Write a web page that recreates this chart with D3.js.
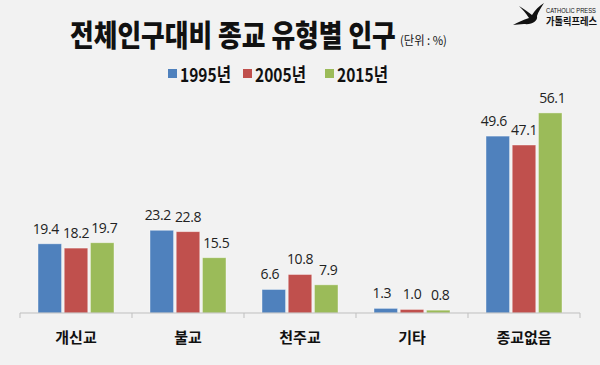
<!DOCTYPE html>
<html>
<head>
<meta charset="utf-8">
<script src="https://cdn.jsdelivr.net/npm/d3@7"></script>
<style>
  body { margin: 0; background: #f2f2f2; }
  svg { display: block; }
</style>
</head>
<body>
<svg id="chart" width="600" height="365"></svg>
<script>
// data
var categories = ["개신교", "불교", "천주교", "기타", "종교없음"];
var years = ["1995년", "2005년", "2015년"];
var v1995 = [19.4, 23.2, 6.6, 1.3, 49.6];
var v2005 = [18.2, 22.8, 10.8, 1.0, 47.1];
var v2015 = [19.7, 15.5, 7.9, 0.8, 56.1];
var colors = ["#4f81bd", "#c0504d", "#9bbb59"];

var series = [v1995, v2005, v2015];
var font = "'Noto Sans CJK KR', 'Noto Sans', sans-serif";
var labelShift = [-4, 0, 2];   // labels spread a little wider than the bars

var svg = d3.select("#chart");
svg.append("rect").attr("width", 600).attr("height", 365).attr("fill", "#f2f2f2");

// squeeze a text horizontally so it spans `w` px from x0 (the glyphs of the
// original are narrower than anything installed here)
function fitText(t, x0, y0, w) {
    var len = t.node().getComputedTextLength();
    var k = Math.min(1, w / len);
    t.attr("x", 0).attr("y", 0)
        .attr("transform", "translate(" + x0 + "," + y0 + ") scale(" + k + ",1)");
}

var x = d3.scaleBand().domain(categories).range([20, 580]);
var xs = d3.scaleBand().domain(d3.range(3)).range([18, 94]).paddingInner(0.1);
var y = d3.scaleLinear().domain([0, 60]).range([313, 99]);

// bars
var groups = svg.selectAll(".grp")
    .data(categories)
    .enter().append("g")
    .attr("class", "grp")
    .attr("transform", function (d) { return "translate(" + x(d) + ",0)"; });

groups.each(function (cat, ci) {
    var g = d3.select(this);
    series.forEach(function (s, si) {
        g.append("rect")
            .attr("x", xs(si))
            .attr("y", y(s[ci]))
            .attr("width", xs.bandwidth())
            .attr("height", y(0) - y(s[ci]))
            .attr("fill", colors[si])
            .attr("stroke", "#ffffff")
            .attr("stroke-opacity", 0.5)
            .attr("stroke-width", 0.8);
        g.append("text")
            .attr("x", xs(si) + xs.bandwidth() / 2 + labelShift[si])
            .attr("y", y(s[ci]) - 10)
            .attr("text-anchor", "middle")
            .attr("font-family", "'Open Sans', sans-serif")
            .attr("font-size", 14)
            .attr("letter-spacing", -0.4)
            .attr("fill", "#222")
            .text(s[ci].toFixed(1));
    });
});

// axis
var axis = svg.append("g")
    .attr("transform", "translate(0," + y(0) + ")");
axis.append("line")
    .attr("x1", 20).attr("x2", 580)
    .attr("stroke", "#bfbfbf").attr("stroke-width", 1);
axis.selectAll(".tk")
    .data(d3.range(categories.length + 1))
    .enter().append("line")
    .attr("x1", function (i) { return 20 + i * x.bandwidth(); })
    .attr("x2", function (i) { return 20 + i * x.bandwidth(); })
    .attr("y1", 0).attr("y2", 5)
    .attr("stroke", "#bfbfbf");
axis.selectAll(".cl")
    .data(categories)
    .enter().append("text")
    .attr("x", function (d) { return x(d) + x.bandwidth() / 2; })
    .attr("y", 30)
    .attr("text-anchor", "middle")
    .attr("font-family", font)
    .attr("font-weight", 700)
    .attr("font-size", 15)
    .attr("fill", "#111")
    .text(function (d) { return d; });

// title
var title = svg.append("text")
    .attr("font-family", font)
    .attr("font-weight", 900)
    .attr("font-size", 30)
    .attr("fill", "#111")
    .text("전체인구대비 종교 유형별 인구");
fitText(title, 70, 46, 326);
var unit = svg.append("text")
    .attr("font-family", font)
    .attr("font-size", 12)
    .attr("fill", "#111")
    .text("(단위 : %)");
fitText(unit, 400, 45, 47);

// legend
var legX = [168, 243, 325];
years.forEach(function (yr, i) {
    svg.append("rect")
        .attr("x", legX[i]).attr("y", 69).attr("width", 9).attr("height", 9)
        .attr("fill", colors[i]);
    var t = svg.append("text")
        .attr("font-family", font)
        .attr("font-weight", 700)
        .attr("font-size", 19)
        .attr("fill", "#111")
        .text(yr);
    fitText(t, legX[i] + 12, 82, 51);
});

// logo
svg.append("path")
    .attr("d", "M519,6 C524,9 528,12 532,15 C535,10 539,6 544,3 C541,8 538,12 537,16 C538,21 532,25 524,24 C520,24 516,25 513,25 C518,22 523,20 529,18 C526,13 522,9 519,6 Z")
    .attr("fill", "#111");
var cp = svg.append("text")
    .attr("font-family", "'Liberation Sans Narrow', 'Liberation Sans', sans-serif")
    .attr("font-size", 6.5)
    .attr("fill", "#111")
    .text("CATHOLIC PRESS");
fitText(cp, 546, 13, 50);
var kp = svg.append("text")
    .attr("font-family", font)
    .attr("font-weight", 700)
    .attr("font-size", 10)
    .attr("fill", "#111")
    .text("가톨릭프레스");
fitText(kp, 546, 25, 51);
</script>
</body>
</html>
